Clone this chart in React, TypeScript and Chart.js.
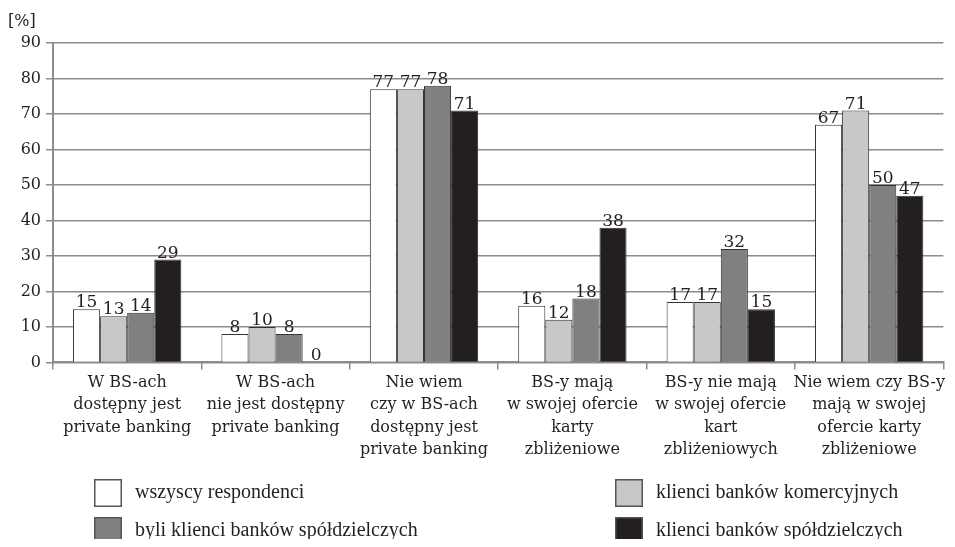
import React, { useEffect, useRef } from "react";
import { Chart, registerables } from "chart.js";

Chart.register(...registerables);

const categories: string[][] = [
  ["W BS-ach", "dostępny jest", "private banking"],
  ["W BS-ach", "nie jest dostępny", "private banking"],
  ["Nie wiem", "czy w BS-ach", "dostępny jest", "private banking"],
  ["BS-y mają", "w swojej ofercie", "karty", "zbliżeniowe"],
  ["BS-y nie mają", "w swojej ofercie", "kart", "zbliżeniowych"],
  ["Nie wiem czy BS-y", "mają w swojej", "ofercie karty", "zbliżeniowe"],
];

const seriesNames = [
  "wszyscy respondenci",
  "klienci banków komercyjnych",
  "byli klienci banków spółdzielczych",
  "klienci banków spółdzielczych",
];

const wszyscy = [15, 8, 77, 16, 17, 67];
const komercyjni = [13, 10, 77, 12, 17, 71];
const byli = [14, 8, 78, 18, 32, 50];
const spoldzielczy = [29, 0, 71, 38, 15, 47];

const seriesColors = ["#ffffff", "#c8c8ca", "#808083", "#231f20"];

const yTicks = [0, 10, 20, 30, 40, 50, 60, 70, 80, 90];

const SERIF = "'DejaVu Serif', serif";
const LEGEND_FONT = "'Liberation Serif', serif";
const GRID = "#8c8c8c";
const TEXT = "#231f20";

const valueLabels = {
  id: "valueLabels",
  afterDatasetsDraw(chart: any) {
    const ctx = chart.ctx;
    ctx.save();
    ctx.font = `17px ${SERIF}`;
    ctx.fillStyle = TEXT;
    ctx.textAlign = "center";
    ctx.textBaseline = "alphabetic";
    chart.data.datasets.forEach((ds: any, i: number) => {
      const meta = chart.getDatasetMeta(i);
      meta.data.forEach((el: any, j: number) => {
        ctx.fillText(String(ds.data[j]), el.x, el.y - 2);
      });
    });
    ctx.restore();
  },
};

const bottomLegend = {
  id: "bottomLegend",
  afterDraw(chart: any) {
    const ctx = chart.ctx;
    ctx.save();
    const colX = [86, 607];
    const rowY = [485, 523];
    chart.data.datasets.forEach((ds: any, i: number) => {
      const x = colX[i % 2];
      const y = rowY[Math.floor(i / 2)];
      ctx.fillStyle = ds.backgroundColor;
      ctx.fillRect(x, y - 14, 28, 28);
      ctx.strokeStyle = "#555";
      ctx.lineWidth = 1.5;
      ctx.strokeRect(x + 0.75, y - 13.25, 26.5, 26.5);
      ctx.fillStyle = TEXT;
      ctx.font = `20px ${LEGEND_FONT}`;
      ctx.textAlign = "left";
      ctx.textBaseline = "middle";
      ctx.fillText(ds.label, x + 41, y);
    });
    ctx.restore();
  },
};

export default function App() {
  const ref = useRef<HTMLCanvasElement | null>(null);
  useEffect(() => {
    if (!ref.current) return;
    const allData = [wszyscy, komercyjni, byli, spoldzielczy];
    const chart = new Chart(ref.current, {
      type: "bar",
      data: {
        labels: categories,
        datasets: allData.map((d, i) => ({
          label: seriesNames[i],
          data: d,
          backgroundColor: seriesColors[i],
          borderColor: "#333333",
          borderWidth: 1,
          barPercentage: 1,
          categoryPercentage: 0.73,
        })),
      },
      options: {
        animation: false,
        responsive: true,
        maintainAspectRatio: false,
        layout: { padding: { top: 0, right: 1, bottom: 76, left: 0 } },
        plugins: {
          legend: { display: false },
          tooltip: { enabled: false },
          title: {
            display: true,
            text: "[%]",
            align: "start",
            color: TEXT,
            font: { family: SERIF, size: 16, weight: "normal" },
            padding: { top: 4, bottom: 12 },
          },
        },
        scales: {
          x: {
            grid: {
              display: true,
              drawOnChartArea: false,
              drawTicks: true,
              tickLength: 7,
              color: GRID,
              lineWidth: 1.5,
              offset: true,
            },
            border: { display: true, color: GRID, width: 2 },
            ticks: {
              color: TEXT,
              font: { family: SERIF, size: 16, lineHeight: 1.4 },
              maxRotation: 0,
              autoSkip: false,
              padding: 2,
            },
          },
          y: {
            min: 0,
            max: 90,
            afterBuildTicks: (scale: any) => {
              scale.ticks = yTicks.map((v) => ({ value: v }));
            },
            afterFit: (scale: any) => {
              scale.width = 45;
            },
            grid: {
              color: GRID,
              lineWidth: 1.5,
              tickLength: 7,
              drawTicks: true,
            },
            border: { display: true, color: GRID, width: 2 },
            ticks: {
              color: TEXT,
              font: { family: SERIF, size: 16 },
              padding: 5,
            },
          },
        },
      },
      plugins: [valueLabels, bottomLegend],
    });
    return () => chart.destroy();
  }, []);
  return (
    <div style={{ position: "relative", width: 939, height: 531 }}>
      <canvas ref={ref} />
    </div>
  );
}
